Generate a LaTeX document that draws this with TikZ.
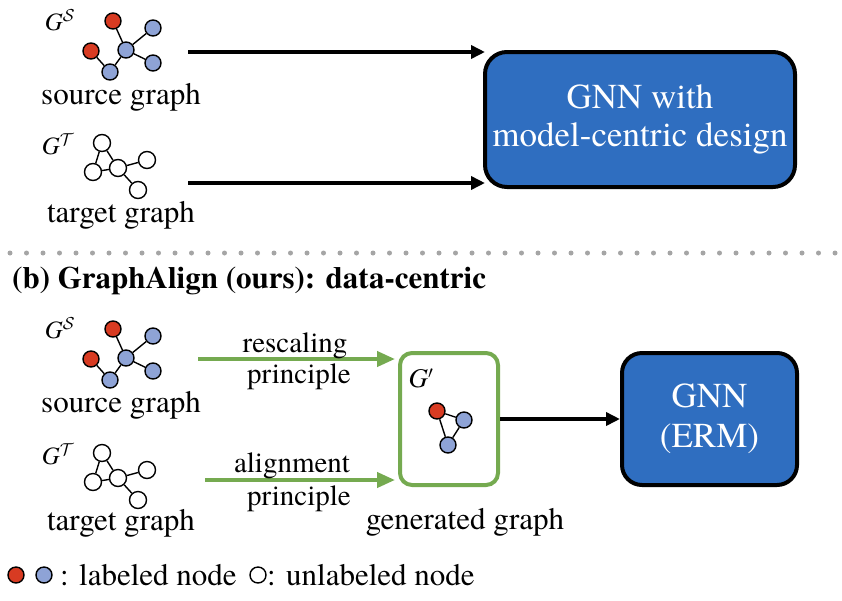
\documentclass[tikz,border=0pt]{standalone}
\usepackage{fontspec}
\setmainfont{TeX Gyre Termes}
\usetikzlibrary{arrows.meta}
\definecolor{rednode}{RGB}{216,59,34}
\definecolor{bluenode}{RGB}{142,163,214}
\definecolor{gnnblue}{RGB}{47,110,192}
\definecolor{grn}{RGB}{117,170,80}
\definecolor{dotgray}{RGB}{165,165,165}
\newcommand\mysrcgraph[2]{%
  \begin{scope}[shift={(0,#2)}]
    \node[gscript] (#1lab) at (60,20) {{\itshape G}$^{\mathcal{S}}$};
    \node[rn] (#1a) at (113,21) {};
    \node[bn] (#1b) at (153,28) {};
    \node[rn] (#1c) at (91,51) {};
    \node[bn] (#1d) at (126,50) {};
    \node[bn] (#1e) at (153,63) {};
    \node[bn] (#1f) at (110,72) {};
    \draw[ge] (#1a) -- (#1d);
    \draw[ge] (#1d) -- (#1b);
    \draw[ge] (#1d) -- (#1e);
    \draw[ge] (#1d) -- (#1f);
    \draw[ge] (#1f) -- (#1c);
  \end{scope}}
\newcommand\mytgtgraph[2]{%
  \begin{scope}[shift={(0,#2)}]
    \node[gscript] (#1lab) at (58,144) {{\itshape G}$^{\mathcal{T}}$};
    \node[wn] (#1a) at (102,143) {};
    \node[wn] (#1b) at (93,172) {};
    \node[wn] (#1c) at (118,168) {};
    \node[wn] (#1d) at (147,160) {};
    \node[wn] (#1e) at (138,190) {};
    \draw[ge] (#1a) -- (#1b);
    \draw[ge] (#1a) -- (#1c);
    \draw[ge] (#1b) -- (#1c);
    \draw[ge] (#1c) -- (#1d);
    \draw[ge] (#1c) -- (#1e);
  \end{scope}}
\begin{document}
\begin{tikzpicture}[x=1pt,y=-1pt,
  gn/.style={circle,draw=black,line width=1.4pt,minimum size=16pt,inner sep=0pt},
  rn/.style={gn,fill=rednode},
  bn/.style={gn,fill=bluenode},
  wn/.style={gn,fill=white,minimum size=17pt},
  ge/.style={line width=1.4pt},
  gscript/.style={inner sep=0pt,font=\fontsize{25}{27}\selectfont},
  lbl/.style={inner sep=0pt,anchor=base,font=\fontsize{31}{33}\selectfont},
  plbl/.style={inner sep=0pt,anchor=base,font=\fontsize{29}{31}\selectfont},
  gnnbox/.style={draw=black,line width=4pt,fill=gnnblue,rounded corners=22pt,
    text=white,align=center,inner sep=0pt,font=\fontsize{35}{38}\selectfont},
  blackarrow/.style={line width=4pt,-{Triangle[length=14pt,width=13pt]}},
  greenarrow/.style={draw=grn,line width=4pt,-{Triangle[length=18pt,width=15pt]}},
]
\useasboundingbox (0,0) rectangle (842,600);

% ---------- top part ----------
\mysrcgraph{ts}{0}
\mytgtgraph{tt}{0}
\node[lbl] (tslbl) at (121,104) {source graph};
\node[lbl] (ttlbl) at (121,222) {target graph};

\node[gnnbox,minimum width=310pt,minimum height=135pt] (gnn1) at (640,119.5)
  {GNN with\\model-centric design};

\coordinate (ta1) at (188,52);
\coordinate (ta2) at (188,183);
\coordinate (te1) at (485,52);
\coordinate (te2) at (485,183);
\draw[blackarrow] (ta1) -- (te1);
\draw[blackarrow] (ta2) -- (te2);

% ---------- separator ----------
\coordinate (dl) at (10,253);
\coordinate (dr) at (838,253);
\draw[dotgray,line width=5pt,line cap=round,dash pattern=on 0pt off 16.5pt] (dl) -- (dr);

\node[inner sep=0pt,anchor=base west,font=\fontsize{31}{33}\selectfont\bfseries] (title)
  at (12,288) {(b) GraphAlign (ours): data-centric};

% ---------- bottom part ----------
\mysrcgraph{bs}{308}
\mytgtgraph{bt}{310}
\node[lbl] (bslbl) at (121,412) {source graph};
\node[lbl] (btlbl) at (121,530) {target graph};

\node[draw=grn,line width=4pt,fill=white,rounded corners=12pt,
  minimum width=98pt,minimum height=132pt,inner sep=0pt] (gbox) at (449,419) {};
\node[inner sep=0pt,font=\fontsize{27}{29}\selectfont] (gplab) at (421,378) {{\itshape G}$'$};
\node[rn] (ga) at (437,411) {};
\node[bn] (gb) at (464,420) {};
\node[bn] (gc) at (448,445) {};
\draw[ge] (ga) -- (gb);
\draw[ge] (ga) -- (gc);
\draw[ge] (gb) -- (gc);
\node[lbl] (genlbl) at (465,529) {generated graph};

\coordinate (ga1) at (198,359);
\coordinate (ge1) at (395,359);
\coordinate (ga2) at (205,480);
\coordinate (ge2) at (395,480);
\draw[greenarrow] (ga1) -- (ge1);
\draw[greenarrow] (ga2) -- (ge2);
\node[plbl] (resc) at (295,352) {rescaling};
\node[plbl] (pr1) at (299,383) {principle};
\node[plbl] (alig) at (292,472) {alignment};
\node[plbl] (pr2) at (299,505) {principle};

\node[gnnbox,rounded corners=20pt,minimum width=175pt,minimum height=132pt] (gnn2) at (709.5,419)
  {GNN\\[2pt](ERM)};
\draw[blackarrow] (gbox.east) -- (gnn2.west);

% ---------- legend ----------
\node[rn] (lr) at (16,575) {};
\node[bn] (lb) at (44,575) {};
\node[inner sep=0pt,anchor=base west,font=\fontsize{31}{33}\selectfont] (lt1) at (60,585) {: labeled node};
\node[gn,fill=white] (lw) at (258,575) {};
\node[inner sep=0pt,anchor=base west,font=\fontsize{31}{33}\selectfont] (lt2) at (267,585) {: unlabeled node};
\end{tikzpicture}
\end{document}
